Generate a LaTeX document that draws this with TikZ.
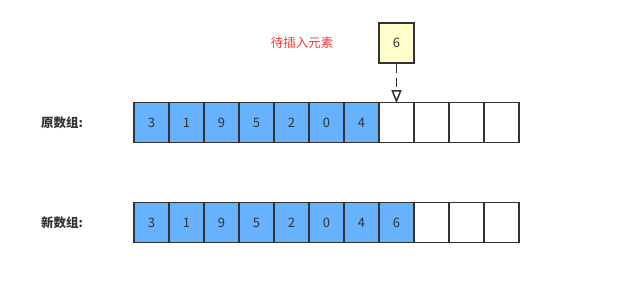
\documentclass[tikz,border=0pt]{standalone}
\usepackage{fontspec}
\setmainfont{Noto Sans CJK SC}
\usetikzlibrary{arrows.meta}
\definecolor{cellblue}{HTML}{66B2FF}
\definecolor{lineg}{HTML}{333333}
\definecolor{noteyel}{HTML}{FFFFCC}
\definecolor{notered}{HTML}{FF3333}
\tikzset{
	cell/.style={draw=lineg, line width=1.5pt, minimum width=35pt, minimum height=40pt, inner sep=0pt, text=lineg, font=\fontsize{13}{15}\selectfont},
	full/.style={cell, fill=cellblue},
	rowlabel/.style={text=lineg, font=\fontsize{12.5}{15}\selectfont\bfseries}
}
\begin{document}
\begin{tikzpicture}[x=1pt,y=-1pt]
\useasboundingbox (0,0) rectangle (643,304);
\node[rowlabel] (origlab) at (62,123) {原数组:};
\node[rowlabel] (newlab) at (62,223) {新数组:};
\foreach \i / \v in {1/3, 2/1, 3/9, 4/5, 5/2, 6/0, 7/4}
{
	\node[full] (a\i) at ({116.5+35*\i},122.5) {\v};
	\node[full] (b\i) at ({116.5+35*\i},222.5) {\v};
}
\node[full] (b8) at (396.5,222.5) {6};
\node[cell] (a8) at (396.5,122.5) {};
\foreach \i in {9,10,11}
{
	\node[cell] (a\i) at ({116.5+35*\i},122.5) {};
	\node[cell] (b\i) at ({116.5+35*\i},222.5) {};
}
\node[cell, fill=noteyel] (ins) at (396.5,43) {6};
\node[text=notered, font=\fontsize{12.5}{15}\selectfont] (note) at (302,43) {待插入元素};
\draw[lineg, line width=1.5pt, dash pattern=on 9pt off 5pt, -{Triangle[open, length=13pt, width=10pt, fill=white]}] (ins) -- ([yshift=-1.5pt]a8.north);
\end{tikzpicture}
\end{document}
